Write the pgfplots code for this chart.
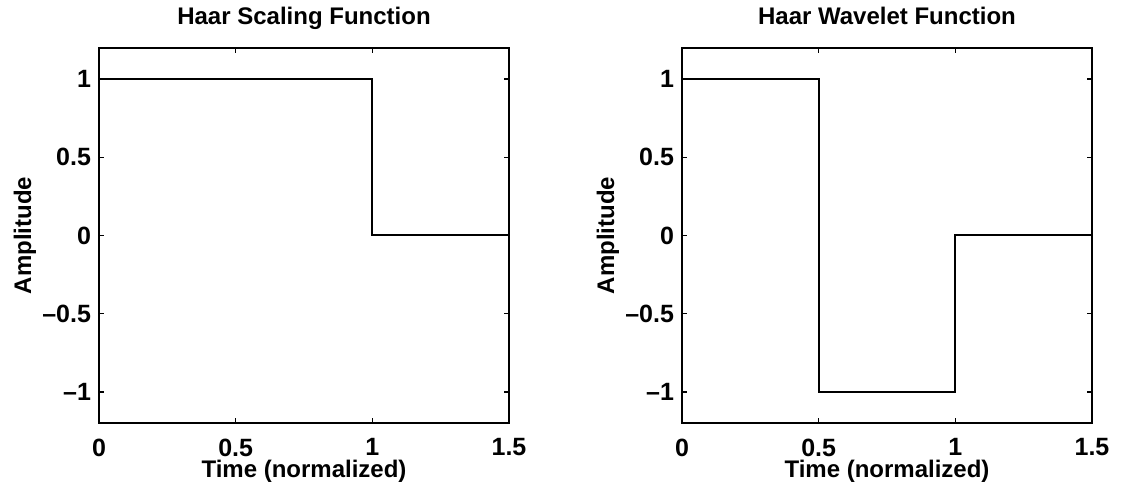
\documentclass[border=0pt]{standalone}
\usepackage{pgfplots}
\pgfplotsset{compat=1.18}
\usepackage{fontspec}
\setmainfont{Liberation Sans}
\pgfplotsset{
  haar/.style={
    scale only axis, width=205pt, height=187.5pt,
    xmin=0, xmax=1.5, ymin=-1.2, ymax=1.2,
    xtick={0,0.5,1,1.5}, xticklabels={0,0.5,1,1.5},
    ytick={-1,-0.5,0,0.5,1}, yticklabels={--1,--0.5,0,0.5,1},
    tick align=inside, major tick length=2.5pt,
    tick style={line width=0.8pt, black},
    axis line style={line width=1pt},
    font=\bfseries\fontsize{12}{14}\selectfont,
    tick label style={font=\bfseries\fontsize{12.5}{14}\selectfont},
    xticklabel style={yshift=-4.3pt},
    yticklabel style={xshift=-0.5pt},
    xlabel={Time (normalized)}, ylabel={Amplitude},
    xlabel style={at={(axis description cs:0.5,0)}, anchor=base, yshift=-27.5pt},
    ylabel style={at={(axis description cs:-0.1805,0.5)}, anchor=center},
    title style={at={(axis description cs:0.5,1)}, anchor=base, yshift=5.9pt},
  }
}
\begin{document}
\begin{tikzpicture}
\begin{axis}[haar, title={Haar Scaling Function}]
\addplot[black, line width=1pt] coordinates {(0,1) (1,1) (1,0) (1.5,0)};
\end{axis}
\begin{axis}[haar, xshift=291.5pt, title={Haar Wavelet Function}]
\addplot[black, line width=1pt] coordinates {(0,1) (0.5,1) (0.5,-1) (1,-1) (1,0) (1.5,0)};
\end{axis}
\pgfresetboundingbox
\useasboundingbox (-49.5pt,-33.5pt) rectangle (511pt,211.5pt);
\end{tikzpicture}
\end{document}
